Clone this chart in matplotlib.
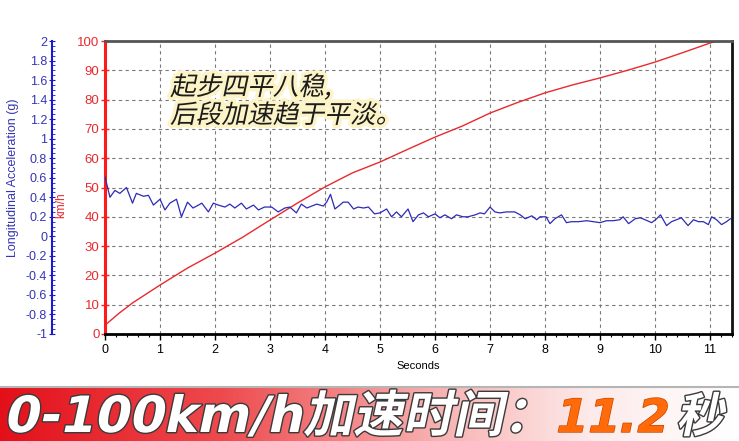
import matplotlib
matplotlib.use("Agg")
import matplotlib.pyplot as plt
import matplotlib.patheffects as pe
from matplotlib.transforms import Affine2D
from matplotlib.colors import LinearSegmentedColormap
from matplotlib.ticker import MultipleLocator
import numpy as np

speed_t = [0, 0.25, 0.5, 1, 1.5, 2, 2.5, 3, 3.5, 4, 4.5, 5, 5.5,
           6, 6.5, 7, 7.5, 8, 8.5, 9, 9.5, 10, 10.5, 11, 11.35]
speed_kmh = [3, 7, 10.6, 16.7, 22.5, 27.6, 33, 38.9, 44.7, 50.2, 55, 58.7, 63,
             67.2, 71, 75.4, 79, 82.3, 85, 87.4, 90, 92.8, 96, 99.3, 101]

# aceleracion longitudinal (g), curva azul
acc_t = [0, 0.09, 0.18, 0.27, 0.39, 0.5, 0.57, 0.7, 0.79, 0.88,
         1.0, 1.09, 1.18, 1.3, 1.39, 1.5, 1.6, 1.7, 1.76, 1.88,
         1.97, 2.06, 2.18, 2.27, 2.36, 2.48, 2.57, 2.7, 2.79, 2.9,
         3.03, 3.15, 3.27, 3.36, 3.48, 3.57, 3.67, 3.76, 3.85, 3.97,
         4.03, 4.1, 4.18, 4.27, 4.33, 4.42, 4.52, 4.6, 4.7, 4.79,
         4.9, 5.0, 5.12, 5.21, 5.3, 5.39, 5.51, 5.6, 5.7, 5.79,
         5.88, 6.0, 6.09, 6.18, 6.3, 6.39, 6.51, 6.6, 6.73, 6.82,
         6.9, 7.0, 7.09, 7.18, 7.3, 7.45, 7.55, 7.64, 7.76, 7.85,
         7.91, 8.02, 8.09, 8.18, 8.3, 8.39, 8.48, 8.61, 8.76, 8.88,
         9.0, 9.12, 9.24, 9.36, 9.42, 9.52, 9.64, 9.73, 9.82, 9.94,
         10.03, 10.1, 10.21, 10.3, 10.39, 10.48, 10.6, 10.7, 10.79, 10.88,
         10.97, 11.03, 11.12, 11.21, 11.3, 11.37]
acc_g = [0.61, 0.40, 0.47, 0.44, 0.50, 0.34, 0.44, 0.41, 0.42, 0.32,
         0.38, 0.27, 0.34, 0.38, 0.20, 0.35, 0.29, 0.32, 0.34, 0.25,
         0.34, 0.32, 0.30, 0.33, 0.29, 0.34, 0.28, 0.32, 0.27, 0.30,
         0.30, 0.25, 0.29, 0.30, 0.24, 0.33, 0.29, 0.31, 0.33, 0.31,
         0.35, 0.43, 0.28, 0.32, 0.35, 0.35, 0.28, 0.30, 0.29, 0.30,
         0.23, 0.24, 0.28, 0.20, 0.25, 0.20, 0.28, 0.15, 0.22, 0.24,
         0.20, 0.23, 0.19, 0.22, 0.18, 0.22, 0.20, 0.20, 0.22, 0.24,
         0.23, 0.30, 0.25, 0.24, 0.25, 0.25, 0.22, 0.18, 0.21, 0.17,
         0.20, 0.20, 0.13, 0.18, 0.22, 0.14, 0.15, 0.15, 0.16, 0.15,
         0.14, 0.16, 0.16, 0.17, 0.20, 0.13, 0.18, 0.19, 0.17, 0.14,
         0.18, 0.22, 0.11, 0.15, 0.17, 0.19, 0.11, 0.17, 0.15, 0.15,
         0.12, 0.20, 0.17, 0.12, 0.15, 0.18]

x_ticks = list(range(12))
speed_ticks = list(range(0, 101, 10))
acc_ticks = [-1, -0.8, -0.6, -0.4, -0.2, 0, 0.2, 0.4, 0.6, 0.8, 1,
             1.2, 1.4, 1.6, 1.8, 2]
acc_labels = ["-1", "-0.8", "-0.6", "-0.4", "-0.2", "0", "0.2", "0.4", "0.6",
              "0.8", "1", "1.2", "1.4", "1.6", "1.8", "2"]

note_lines = ["起步四平八稳,", "后段加速趋于平淡。"]
banner_speed = "0-100km/h"
banner_text = "加速时间："
banner_time = "11.2"
banner_unit = "秒"

plt.rcParams["font.family"] = ["Liberation Sans", "Noto Sans CJK SC"]

RED = "#e82a2e"
BLUE = "#2b2bb8"
W, H = 739, 441


class Oblique(pe.Stroke):
    # igual que Stroke pero inclinando el glifo (Noto CJK no tiene cursiva)
    def draw_path(self, renderer, gc, tpath, affine, rgbFace):
        super().draw_path(renderer, gc, tpath,
                          Affine2D().skew_deg(12, 0) + affine, rgbFace)


fig = plt.figure(figsize=(W / 100, H / 100), dpi=100)

# franja inferior con degradado
bg = fig.add_axes([0, 0, 1, 54 / H])
cmap = LinearSegmentedColormap.from_list(
    "banda", [(0, "#e3101a"), (0.3, "#ee4a4e"), (0.6, "#f8b4b4"),
              (0.8, "#fdeaea"), (1, "#ffffff")])
bg.imshow(np.linspace(0, 1, 256)[None, :], cmap=cmap, aspect="auto",
          extent=[0, 1, 0, 1])
bg.set_xticks([])
bg.set_yticks([])
for s in ["left", "right", "bottom"]:
    bg.spines[s].set_visible(False)
bg.spines["top"].set_color("#b5b5b5")
bg.spines["top"].set_linewidth(1.5)

# eje principal: velocidad
ax = fig.add_axes([105 / W, 1 - 334 / H, 627 / W, 293 / H])
ax.plot(speed_t, speed_kmh, color=RED, lw=1.0)
ax.set_xlim(0, 11.4)
ax.set_ylim(0, 100)
ax.set_xticks(x_ticks)
ax.xaxis.set_minor_locator(MultipleLocator(0.2))
ax.set_yticks(speed_ticks)
ax.grid(True, color="#7a7a7a", linestyle=(0, (3, 3)), lw=0.8)
ax.tick_params(axis="x", which="major", direction="out", length=4, width=1,
               labelsize=9, pad=3)
ax.tick_params(axis="x", which="minor", direction="out", length=2.5, width=0.8)
ax.tick_params(axis="y", direction="inout", length=6, width=1, color=RED,
               labelcolor=RED, labelsize=9.5, pad=1)
ax.set_xlabel("Seconds", fontsize=8, labelpad=4)
ax.spines["left"].set_color("#ff1a1a")
ax.spines["left"].set_linewidth(2.2)
ax.spines["bottom"].set_linewidth(2)
ax.spines["top"].set_color("#555555")
ax.spines["top"].set_linewidth(2)
ax.spines["right"].set_color("#111111")
ax.spines["right"].set_linewidth(2)

# eje gemelo: aceleracion, con su eje a la izquierda
ax2 = ax.twinx()
ax2.plot(acc_t, acc_g, color=BLUE, lw=0.9)
ax2.set_ylim(-1, 2)
ax2.yaxis.tick_left()
ax2.set_yticks(acc_ticks)
ax2.set_yticklabels(acc_labels)
ax2.yaxis.set_minor_locator(MultipleLocator(0.05))
ax2.spines["left"].set_position(("axes", (52 - 105) / 627))
ax2.spines["left"].set_color("#1a1ad0")
ax2.spines["left"].set_linewidth(1.5)
for s in ["top", "right", "bottom"]:
    ax2.spines[s].set_visible(False)
ax2.tick_params(axis="y", which="major", direction="inout", length=5,
                color="#1a1ad0", labelcolor="#3535b5", labelsize=9, pad=1)
ax2.tick_params(axis="y", which="minor", direction="in", length=2,
                color="#1a1ad0")

fig.text(13 / W, 1 - 178 / H, "Longitudinal Acceleration (g)", rotation=90,
         color="#3535b5", fontsize=9, ha="center", va="center")
fig.text(61 / W, 1 - 205 / H, "km/h", rotation=90, color=RED, fontsize=8.5,
         ha="center", va="center")

# nota en chino
glow = [Oblique(linewidth=5, foreground="#fcf4c6"), Oblique()]
for i, line in enumerate(note_lines):
    fig.text(170 / W, 1 - (95 + 28 * i) / H, line, fontsize=18.5,
             color="#1c1c1c", va="baseline",
             family=["Noto Sans CJK SC", "DejaVu Sans"], path_effects=glow)

# titulo de la franja
edge = [Oblique(linewidth=2, foreground="#3a3a3a"), Oblique()]
bfont = dict(weight="bold", va="baseline",
             family=["DejaVu Sans", "Noto Sans CJK SC"])
fig.text(3 / W, 9 / H, banner_speed, color="white", fontsize=36,
         path_effects=edge, **bfont)
fig.text(303 / W, 9 / H, banner_text, color="white", fontsize=36,
         path_effects=edge, **bfont)
fig.text(553 / W, 9 / H, banner_time, color="#ff6a0a", fontsize=33,
         path_effects=[Oblique(linewidth=1, foreground="#c84800"), Oblique()],
         **bfont)
fig.text(676 / W, 9 / H, banner_unit, color="white", fontsize=34,
         path_effects=edge, **bfont)

fig.savefig("out.png", dpi=100)
